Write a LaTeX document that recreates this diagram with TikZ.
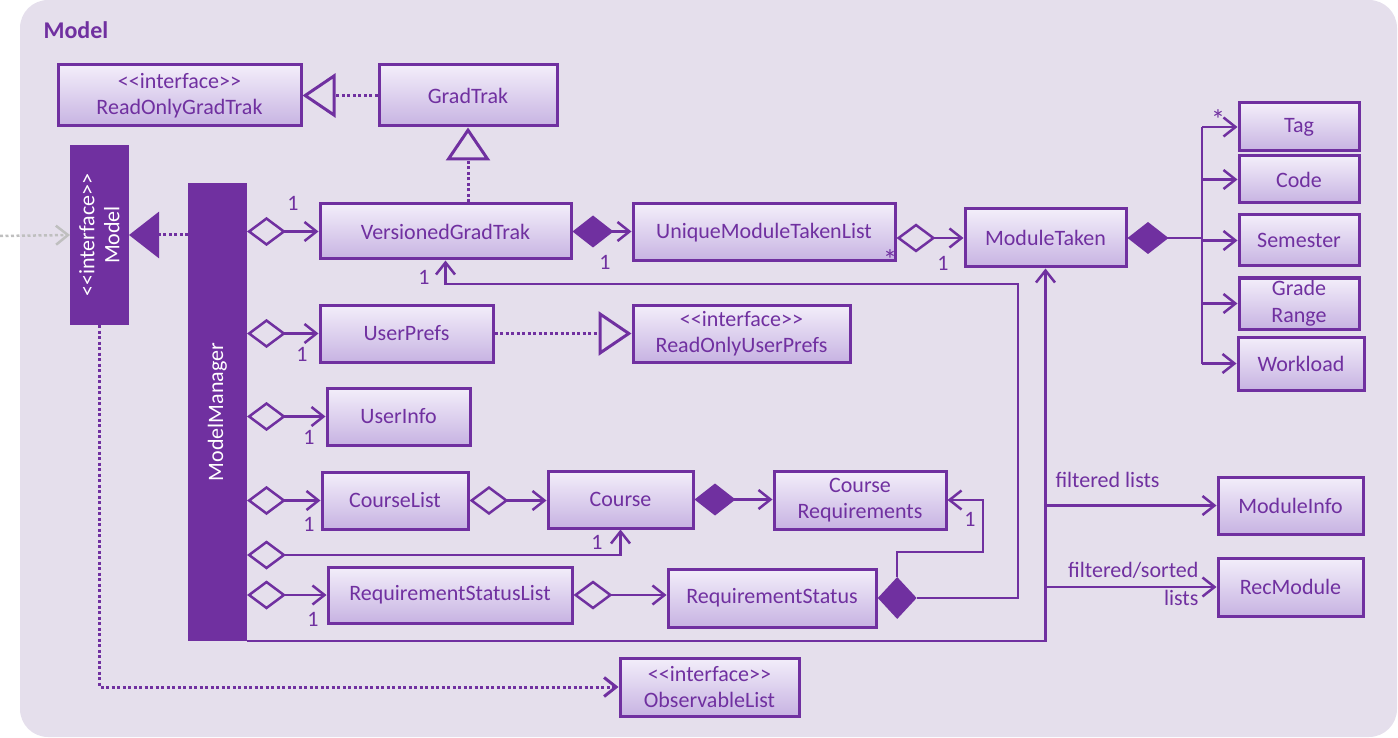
\documentclass[tikz,border=0pt]{standalone}
\usepackage{fontspec}
\setmainfont{Carlito}
\usetikzlibrary{arrows.meta,shapes.geometric}

\definecolor{umlpurple}{HTML}{7030A0}
\definecolor{panel}{HTML}{E5DFEC}
\definecolor{boxtop}{HTML}{F3EEFA}
\definecolor{boxbot}{HTML}{C7B3E2}
\definecolor{extgray}{HTML}{BFBFBF}

% class box given by its corners: name, x1, y1, x2, y2, text
\newcommand\clsbox[6]{%
  \node[cls, minimum width={(#4-#2)*1pt}, minimum height={(#5-#3)*1pt}]
    (#1) at ({(#2+#4)/2},{(#3+#5)/2}) {#6};}
% solid bar (interface / manager) given by its corners
\newcommand\barbox[5]{%
  \node[solidbar, minimum width={(#4-#2)*1pt}, minimum height={(#5-#3)*1pt}]
    (#1) at ({(#2+#4)/2},{(#3+#5)/2}) {};}
\newcommand\stereo{<{}<interface>{}>}

\begin{document}
\begin{tikzpicture}[x=1pt,y=-1pt,
  every node/.style={text=umlpurple, font=\fontsize{22}{26.5}\selectfont},
  cls/.style={draw=umlpurple, line width=3pt, top color=boxtop,
    bottom color=boxbot, inner sep=0pt, align=center},
  solidbar/.style={fill=umlpurple, draw=none, inner sep=0pt, outer sep=0pt},
  barlabel/.style={rotate=90, text=white, align=center,
    font=\fontsize{22}{25}\selectfont},
  star/.style={font=\fontsize{28}{28}\selectfont},
  link/.style={draw=umlpurple, line width=2.5pt},
  dotline/.style={line width=3pt, dash pattern=on 3pt off 2.5pt},
  barb/.tip={Straight Barb[length=12pt,width=19pt]},
  hdia/.tip={Diamond[open,length=39pt,width=29pt]},
  fdia/.tip={Diamond[length=41pt,width=32pt]},
  otri/.tip={Triangle[open,length=33pt,width=44pt]},
  ftri/.tip={Triangle[length=30pt,width=46pt]},
]
\useasboundingbox (0,0) rectangle (1398,738);

% package panel
\fill[panel, rounded corners=28pt] (20,0) rectangle (1397,737);
\node[font=\fontsize{24}{28}\selectfont\bfseries, anchor=west] (title) at (40,30) {Model};

% interface and manager bars
\barbox{model}{70}{145}{129}{325}
\node[barlabel] (modellabel) at (model.center) {\stereo\\Model};
\barbox{mm}{188}{183}{247}{641}
\node[barlabel] (mmlabel) at (mm.center) {ModelManager};

% classes
\clsbox{rogt}{58}{65}{301}{126}{\stereo\\ReadOnlyGradTrak}
\clsbox{gt}{379}{65}{557}{126}{GradTrak}
\clsbox{vgt}{320}{204}{571}{259}{VersionedGradTrak}
\clsbox{umtl}{633}{204}{895}{261}{UniqueModuleTakenList}
\clsbox{mt}{965}{209}{1126}{267}{ModuleTaken}
\clsbox{tag}{1239}{103}{1359}{151}{Tag}
\clsbox{code}{1239}{156}{1359}{203}{Code}
\clsbox{sem}{1239}{215}{1359}{266}{Semester}
\clsbox{grade}{1239}{278}{1359}{329}{Grade\\Range}
\clsbox{wl}{1238}{337}{1364}{390}{Workload}
\clsbox{up}{320}{305}{493}{362}{UserPrefs}
\clsbox{roup}{633}{305}{850}{362}{\stereo\\ReadOnlyUserPrefs}
\clsbox{ui}{327}{388}{470}{445}{UserInfo}
\clsbox{cl}{322}{472}{468}{529}{CourseList}
\clsbox{course}{548}{471}{693}{528}{Course}
\clsbox{creq}{774}{471}{946}{529}{Course\\Requirements}
\clsbox{rsl}{328}{567}{572}{623}{RequirementStatusList}
\clsbox{rs}{668}{569}{876}{627}{RequirementStatus}
\clsbox{mi}{1218}{477}{1363}{534}{ModuleInfo}
\clsbox{rec}{1218}{558}{1363}{616}{RecModule}
\clsbox{obs}{620}{658}{799}{716}{\stereo\\ObservableList}

% realisations
\draw[link, dotline, -ftri] (mm.west |- model.east) -- (model.east);
\draw[link, dotline, -otri] (gt.south |- vgt.north) -- (gt.south);
\draw[link, dotline, -otri] (gt.west) -- (rogt.east);
\draw[link, dotline, -otri] (up.east) -- (roup.west);

% external use of Model
\coordinate (ext) at (0,236);
\draw[extgray, line width=2.5pt, dash pattern=on 3pt off 2.5pt, -barb] (ext) -- (model.west);

% Model exposes observable lists
\draw[link, dotline, -barb] (model.south) |- (obs.west);

% ModelManager aggregations
\draw[link, hdia-barb] (mm.east |- vgt.west) -- (vgt.west);
\draw[link, hdia-barb] (mm.east |- up.west) -- (up.west);
\draw[link, hdia-barb] (mm.east |- ui.west) -- (ui.west);
\draw[link, hdia-barb] (mm.east |- cl.west) -- (cl.west);
\draw[link, hdia-barb] (mm.east |- rsl.west) -- (rsl.west);
\coordinate (mmc) at (mm.east |- 0,555);
\draw[link, hdia-barb] (mmc) -| (course.south);

% module lists
\draw[link, fdia-barb] (vgt.east) -- (vgt.east -| umtl.west);
\draw[link, hdia-barb] (umtl.east |- mt.west) -- (mt.west);

% ModuleTaken composition
\coordinate (trunk) at (1202,0);
\draw[link, fdia-] (mt.east) -- (mt.east -| trunk);
\draw[link] (trunk |- tag.west) -- (trunk |- wl.west);
\foreach \c in {tag,code,sem,grade,wl}
  \draw[link, -barb] (trunk |- \c.west) -- (\c.west);

% course structure
\draw[link, hdia-barb] (cl.east) -- (cl.east -| course.west);
\draw[link, fdia-barb] (course.east) -- (course.east -| creq.west);
\draw[link, hdia-barb] (rsl.east) -- (rsl.east -| rs.west);

% RequirementStatus composition
\node[diamond, fill=umlpurple, inner sep=0pt, minimum width=39pt,
  minimum height=42pt, anchor=west] (rsd) at (rs.east) {};
\coordinate (crj) at (983,552);
\draw[link, -barb] (rsd.north) |- (crj) |- (creq.east);
\coordinate (vgj) at (1018,284);
\draw[link, -barb] (rsd.east) -| (vgj) -| (vgt.south);

% filtered lists of ModuleTaken
\draw[link, -barb] (mm.south east) -| (mt.south);
\draw[link, -barb] (mt.south |- mi.west) -- (mi.west);
\draw[link, -barb] (mt.south |- rec.west) -- (rec.west);
\node[anchor=west] (fl) at (1052,480) {filtered lists};
\node[anchor=east, align=right, font=\fontsize{22}{28}\selectfont] (fsl) at (1202,584) {filtered/sorted\\lists};

% multiplicities
\node (m1) at (293,203) {1};
\node (m2) at (605,262) {1};
\node (m3) at (943,263) {1};
\node (m4) at (302,354) {1};
\node (m5) at (309,437) {1};
\node (m6) at (309,524) {1};
\node (m7) at (597,542) {1};
\node (m8) at (313,619) {1};
\node (m9) at (424,277) {1};
\node (m10) at (970,519) {1};
\node[star] (s1) at (890,260) {*};
\node[star] (s2) at (1218,120) {*};
\end{tikzpicture}
\end{document}
